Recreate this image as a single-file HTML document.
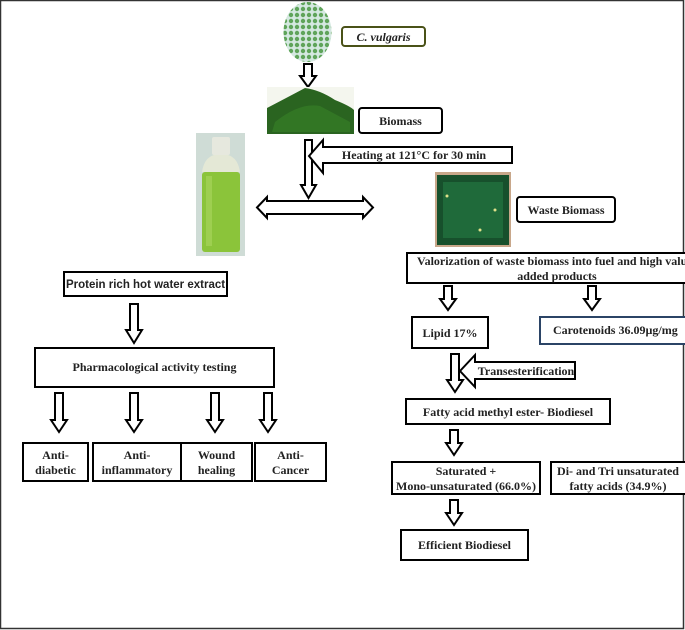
<!DOCTYPE html>
<html><head><meta charset="utf-8"><style>
html,body{margin:0;padding:0;background:#fff;}
svg{display:block;}
text{font-family:"Liberation Serif",serif;font-weight:bold;fill:#222;}
</style></head><body>
<svg width="685" height="630" viewBox="0 0 685 630" xmlns="http://www.w3.org/2000/svg">
<defs>
<pattern id="dots" width="6" height="6" patternUnits="userSpaceOnUse">
<rect width="6" height="6" fill="#d4e8e0"/>
<circle cx="3" cy="3" r="2.2" fill="#5fa45a"/>
</pattern>
</defs>
<rect x="0.5" y="0.5" width="683" height="628" fill="#fff" stroke="#333" stroke-width="1.5"/>

<ellipse cx="307.5" cy="32" rx="24" ry="30" fill="url(#dots)"/>
<rect x="342" y="27" width="83" height="19" rx="3" fill="#fff" stroke="#4a5218" stroke-width="2"/>
<text x="383.5" y="41" font-size="12" text-anchor="middle" font-style="italic">C. vulgaris</text>

<g fill="#fff" stroke="#000" stroke-width="2">
<polygon points="304,64 312,64 312,76 316,76 308,87 300,76 304,76"/>
</g>

<rect x="267" y="87" width="87" height="47" fill="#f4f6ee"/>
<path d="M267,134 L267,108 Q290,96 305,88 Q320,90 335,100 Q350,106 354,110 L354,134 Z" fill="#2a6420"/>
<path d="M275,122 Q300,102 320,106 Q335,114 350,122 L350,132 L272,132 Z" fill="#347a26" opacity="0.8"/>

<rect x="359" y="108" width="83" height="25" rx="3" fill="#fff" stroke="#000" stroke-width="2"/>
<text x="400.5" y="125" font-size="12" text-anchor="middle">Biomass</text>

<g fill="#fff" stroke="#000" stroke-width="2">
<polygon points="305,140 312,140 312,185 316,185 308.5,198 301,185 305,185"/>
<polygon points="309,156 323,140 323,147 512,147 512,163 323,163 323,173"/>
<polygon points="257,207.5 267,197 267,201 363,201 363,197 373,207.5 363,218 363,214 267,214 267,218"/>
</g>
<text x="414" y="159" font-size="12" text-anchor="middle">Heating at 121°C  for 30 min</text>

<rect x="196" y="133" width="49" height="123" fill="#cfdcd6"/>
<rect x="212" y="137" width="18" height="18" rx="2" fill="#e6e8de"/>
<path d="M202,172 Q204,158 214,155 L228,155 Q238,158 240,172 Z" fill="#e4e8d6"/>
<rect x="202" y="172" width="38" height="80" rx="3" fill="#8bc43a"/>
<rect x="206" y="176" width="6" height="70" fill="#a6d45a" opacity="0.7"/>

<rect x="435" y="172" width="76" height="75" fill="#c8a78a"/>
<rect x="437" y="175" width="72" height="70" fill="#17502c"/>
<rect x="443" y="182" width="60" height="56" fill="#22703e" opacity="0.8"/>
<circle cx="447" cy="196" r="1.5" fill="#e0e08a"/>
<circle cx="480" cy="230" r="1.5" fill="#e0e08a"/>
<circle cx="495" cy="210" r="1.5" fill="#e0e08a"/>

<rect x="517" y="197" width="98" height="25" rx="3" fill="#fff" stroke="#000" stroke-width="2"/>
<text x="566" y="214" font-size="12" text-anchor="middle">Waste Biomass</text>

<rect x="407" y="253" width="290" height="30" fill="#fff" stroke="#000" stroke-width="2"/>
<text x="417" y="265" font-size="12">Valorization  of waste biomass into fuel and high value</text>
<text x="557" y="280" font-size="12" text-anchor="middle">added products</text>

<g fill="#fff" stroke="#000" stroke-width="2">
<polygon points="444,286 452,286 452,299 456,299 448,310 440,299 444,299"/>
<polygon points="588,286 596,286 596,299 600,299 592,310 584,299 588,299"/>
</g>

<rect x="412" y="317" width="76" height="31" fill="#fff" stroke="#000" stroke-width="2"/>
<text x="450" y="337" font-size="12" text-anchor="middle">Lipid  17%</text>
<rect x="540" y="317" width="150" height="27" fill="#fff" stroke="#2b4466" stroke-width="2"/>
<text x="553" y="334" font-size="12">Carotenoids 36.09µg/mg</text>

<g fill="#fff" stroke="#000" stroke-width="2">
<polygon points="451,354 459,354 459,380 463,380 455,392 447,380 451,380"/>
<polygon points="460,371 475,355 475,362 575,362 575,379 475,379 475,387"/>
<polygon points="450,430 458,430 458,443 462,443 454,455 446,443 450,443"/>
<polygon points="450,500 458,500 458,513 462,513 454,525 446,513 450,513"/>
</g>
<text x="526" y="375" font-size="12" text-anchor="middle">Transesterification</text>

<rect x="406" y="399" width="204" height="25" fill="#fff" stroke="#000" stroke-width="2"/>
<text x="508" y="416" font-size="12" text-anchor="middle">Fatty acid methyl ester- Biodiesel</text>

<rect x="392" y="462" width="148" height="32" fill="#fff" stroke="#000" stroke-width="2"/>
<text x="466" y="475" font-size="12" text-anchor="middle">Saturated +</text>
<text x="466" y="490" font-size="12" text-anchor="middle">Mono-unsaturated  (66.0%)</text>
<rect x="551" y="462" width="140" height="32" fill="#fff" stroke="#000" stroke-width="2"/>
<text x="618" y="475" font-size="12" text-anchor="middle">Di- and Tri unsaturated</text>
<text x="618" y="490" font-size="12" text-anchor="middle">fatty acids (34.9%)</text>

<rect x="401" y="530" width="127" height="30" fill="#fff" stroke="#000" stroke-width="2"/>
<text x="464.5" y="549" font-size="12" text-anchor="middle">Efficient  Biodiesel</text>

<rect x="64" y="272" width="163" height="24" fill="#fff" stroke="#000" stroke-width="2"/>
<text x="145.5" y="288" font-size="11.5" text-anchor="middle" style="font-family:'Liberation Sans',sans-serif">Protein rich hot water extract</text>

<g fill="#fff" stroke="#000" stroke-width="2">
<polygon points="130,304 138,304 138,330 142,330 134,343 126,330 130,330"/>
<polygon points="55,393 63,393 63,420 67,420 59,432 51,420 55,420"/>
<polygon points="130,393 138,393 138,420 142,420 134,432 126,420 130,420"/>
<polygon points="211,393 219,393 219,420 223,420 215,432 207,420 211,420"/>
<polygon points="264,393 272,393 272,420 276,420 268,432 260,420 264,420"/>
</g>

<rect x="35" y="348" width="239" height="39" fill="#fff" stroke="#000" stroke-width="2"/>
<text x="154.5" y="371" font-size="12" text-anchor="middle">Pharmacological  activity  testing</text>

<g fill="#fff" stroke="#000" stroke-width="2">
<rect x="23" y="443" width="65" height="38"/>
<rect x="93" y="443" width="88" height="38"/>
<rect x="181" y="443" width="71" height="38"/>
<rect x="255" y="443" width="71" height="38"/>
</g>
<g font-size="12" text-anchor="middle">
<text x="55.5" y="459">Anti-</text><text x="55.5" y="474">diabetic</text>
<text x="137" y="459">Anti-</text><text x="137" y="474">inflammatory</text>
<text x="216.5" y="459">Wound</text><text x="216.5" y="474">healing</text>
<text x="290.5" y="459">Anti-</text><text x="290.5" y="474">Cancer</text>
</g>
</svg>
</body></html>
